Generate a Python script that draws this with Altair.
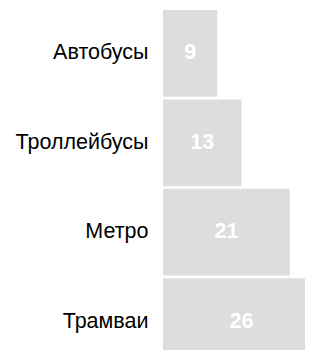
import altair as alt
import pandas as pd

categories = ["Автобусы", "Троллейбусы", "Метро", "Трамваи"]
values = [9, 13, 21, 26]

df = pd.DataFrame({"category": categories, "value": values})
df["half"] = df["value"] / 2

FONT = "Liberation Sans"

y_scale = alt.Scale(domain=categories, range=[0, 355], paddingInner=0.03, paddingOuter=0)
x_scale = alt.Scale(domain=[0, 26], range=[0, 157], nice=False)

bars = alt.Chart(df).mark_bar(color="#dddddd", clip=True).encode(
    x=alt.X("value:Q", scale=x_scale, axis=None),
    y=alt.Y(
        "category:N",
        sort=categories,
        title=None,
        scale=y_scale,
        axis=alt.Axis(
            ticks=False,
            domain=False,
            labelPadding=15,
            labelFontSize=21.5,
            labelFont=FONT,
            labelColor="#000000",
            minExtent=155,
            maxExtent=155,
        ),
    ),
)

labels = alt.Chart(df).mark_text(
    color="white", fontWeight="bold", fontSize=21.5, font=FONT,
    align="center", baseline="middle",
).encode(
    x=alt.X("half:Q", scale=x_scale),
    y=alt.Y("category:N", sort=categories, scale=y_scale),
    text=alt.Text("value:Q"),
)

chart = (
    alt.layer(bars, labels)
    .properties(
        width=142,
        height=340,
        padding={"left": 0, "top": 2, "right": 0, "bottom": 0},
    )
    .configure_view(stroke=None)
)

chart.save("out.html", embed_options={"renderer": "svg", "actions": False})
